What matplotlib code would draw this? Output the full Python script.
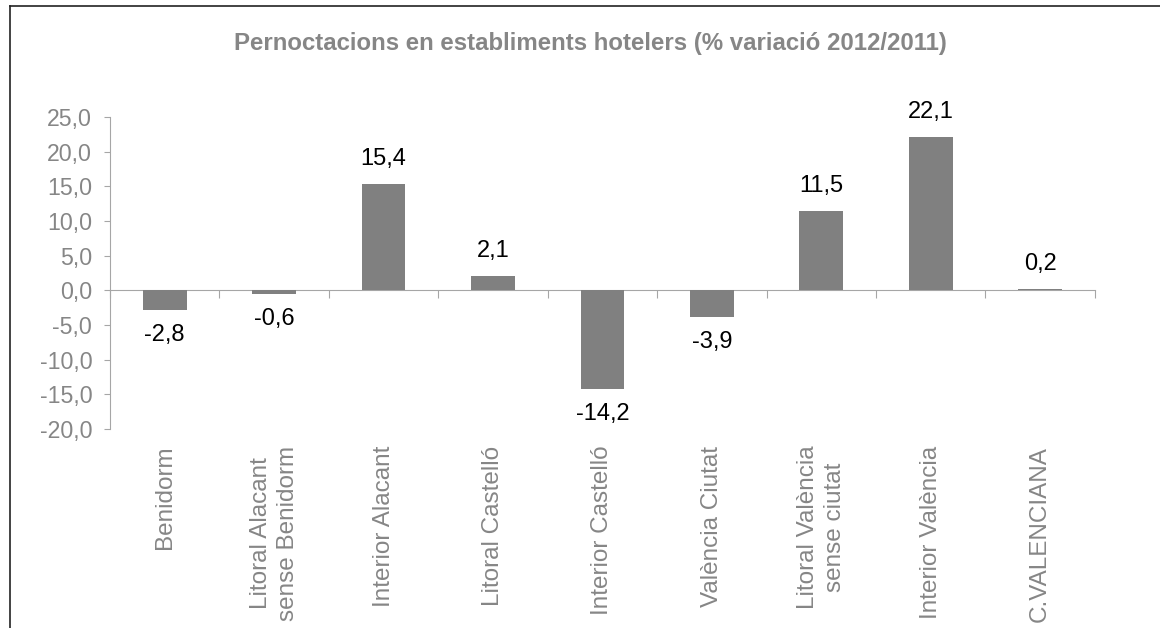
import matplotlib.pyplot as plt
from matplotlib.lines import Line2D
from matplotlib.ticker import FuncFormatter

plt.rcParams["font.family"] = ["Liberation Sans", "DejaVu Sans"]

categories = [
    "Benidorm",
    "Litoral Alacant\nsense Benidorm",
    "Interior Alacant",
    "Litoral Castelló",
    "Interior Castelló",
    "València Ciutat",
    "Litoral València\nsense ciutat",
    "Interior València",
    "C.VALENCIANA",
]
values = [-2.8, -0.6, 15.4, 2.1, -14.2, -3.9, 11.5, 22.1, 0.2]
yticks = [-20, -15, -10, -5, 0, 5, 10, 15, 20, 25]

title = "Pernoctacions en establiments hotelers (% variació 2012/2011)"

bar_color = "#808080"
axis_color = "#a6a6a6"
text_gray = "#868686"

fig = plt.figure(figsize=(11.6, 6.28), dpi=100)
ax = fig.add_axes([0.0948, 0.3169, 0.849, 0.4968])

x = list(range(len(categories)))
ax.bar(x, values, width=0.4, color=bar_color, zorder=2)

ax.set_xlim(-0.5, len(categories) - 0.5)
ax.set_ylim(-20, 25)

# y axis
ax.set_yticks(yticks)
ax.yaxis.set_major_formatter(FuncFormatter(lambda v, p: f"{v:.1f}".replace(".", ",")))
ax.tick_params(axis="y", direction="out", length=4.3, width=0.8, color=axis_color,
               labelcolor=text_gray, labelsize=16.7, pad=8.5)

# x tick labels at the bottom, no ticks
ax.set_xticks(x)
ax.set_xticklabels(categories, rotation=90, color=text_gray, fontsize=17.5,
                   linespacing=1.3, multialignment="center")
ax.tick_params(axis="x", length=0, pad=12)

for s in ["top", "right", "bottom"]:
    ax.spines[s].set_visible(False)
ax.spines["left"].set_color(axis_color)
ax.spines["left"].set_linewidth(0.8)

# category axis crossing at zero with boundary ticks
sec = ax.secondary_xaxis(20 / 45)
sec.set_xticks([i - 0.5 for i in range(len(categories) + 1)])
sec.set_xticklabels([])
sec.tick_params(axis="x", direction="out", length=6, width=0.8, color=axis_color)
for s in sec.spines.values():
    s.set_color(axis_color)
    s.set_linewidth(0.8)

# data labels
for xi, v in zip(x, values):
    label = f"{v:.1f}".replace(".", ",")
    if v >= 0:
        ax.annotate(label, (xi, v), xytext=(0, 10), textcoords="offset points",
                    ha="center", va="bottom", fontsize=17, color="black")
    else:
        ax.annotate(label, (xi, v), xytext=(0, -10), textcoords="offset points",
                    ha="center", va="top", fontsize=17, color="black")

fig.text(0.5086, 0.9315, title, ha="center", va="center", fontsize=17.3,
         fontweight="bold", color=text_gray)

# outer frame (left and top edges)
fig.add_artist(Line2D([10 / 1160, 10 / 1160], [0, 1 - 6 / 628], transform=fig.transFigure,
                      color="#222222", lw=1.2))
fig.add_artist(Line2D([10 / 1160, 1], [1 - 6 / 628, 1 - 6 / 628], transform=fig.transFigure,
                      color="#222222", lw=1.2))

fig.savefig("out.png", dpi=100)
